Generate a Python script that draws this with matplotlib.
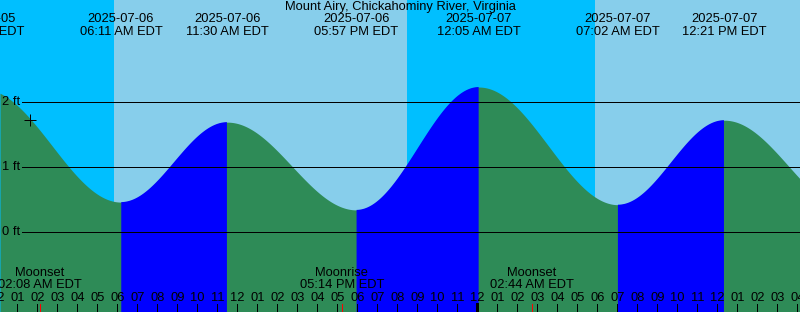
import numpy as np
import matplotlib
matplotlib.use("Agg")
import matplotlib.pyplot as plt

plt.rcParams["font.family"] = ["Liberation Sans", "DejaVu Sans"]

title = "Mount Airy, Chickahominy River, Virginia"

# tide extremes: hours since 2025-07-06 00:00 EDT, height in ft
tide_hours = [-0.72, 6.18, 11.50, 17.95, 24.08, 31.03, 36.35, 42.8]
tide_heights = [2.2, 0.46, 1.69, 0.34, 2.23, 0.42, 1.72, 0.30]
tide_dates = ["2025-07-05", "2025-07-06", "2025-07-06", "2025-07-06",
              "2025-07-07", "2025-07-07", "2025-07-07", ""]
tide_times = ["11:17 PM EDT", "06:11 AM EDT", "11:30 AM EDT", "05:57 PM EDT",
              "12:05 AM EDT", "07:02 AM EDT", "12:21 PM EDT", ""]

# daylight spans (sunrise, sunset) in hours
day_spans = [(5.83, 20.48), (29.88, 45.0)]

moon_hours = [2.13, 17.23, 26.73]
moon_names = ["Moonset", "Moonrise", "Moonset"]
moon_times = ["02:08 AM EDT", "05:14 PM EDT", "02:44 AM EDT"]

height_ticks = [0, 1, 2]
now_hour, now_height = 1.63, 1.72

W, H = 800, 312
x0 = 0.135
x1 = x0 + W / 20.0
ytop = 232 / 65.0
ybot = (232 - H) / 65.0
FS = 9.3
PX = 0.72  # one pixel in points

fig = plt.figure(figsize=(W / 100, H / 100), dpi=100)
ax = fig.add_axes([0, 0, 1, 1])
ax.set_xlim(x0, x1)
ax.set_ylim(ybot, ytop)
ax.axis("off")

def ypix(p):
    return 1 - p / H

tr = ax.get_xaxis_transform()

# sky
ax.axvspan(x0, x1, color="#00BFFF", lw=0, zorder=0)
for a, b in day_spans:
    ax.axvspan(a, b, color="#87CEEB", lw=0, zorder=0.5)

# tide curve, cosine shape between extremes
t = np.linspace(x0, x1, 2000)
h = np.zeros_like(t)
rising = np.zeros_like(t, dtype=bool)
for i in range(len(tide_hours) - 1):
    ta, tb = tide_hours[i], tide_hours[i + 1]
    ha, hb = tide_heights[i], tide_heights[i + 1]
    m = (t >= ta) & (t <= tb)
    f = (t[m] - ta) / (tb - ta)
    h[m] = (ha + hb) / 2 + (ha - hb) / 2 * np.cos(np.pi * f)
    if hb > ha:
        rising[m] = True

ax.fill_between(t, ybot, h, color="#2E8B57", lw=0, zorder=1)
ax.fill_between(t, ybot, h, where=rising, color="#0000FF", lw=0, zorder=2)

# height lines
for v in height_ticks:
    ax.plot([x0 + 22 / 20.0, x1], [v, v], color="black", lw=PX,
            antialiased=False, zorder=3)
    ax.text(x0 + 2 / 20.0, v, "%d ft" % v, ha="left", va="center",
            fontsize=FS, zorder=4)

ax.plot(now_hour, now_height, marker="+", color="black", ms=8, mew=PX,
        zorder=4)

ax.text(0.5, ypix(7), title, transform=ax.transAxes, ha="center",
        va="center", fontsize=FS, zorder=5)
for th, d, tm in zip(tide_hours, tide_dates, tide_times):
    if not d:
        continue
    ax.text(th, ypix(19), d, transform=tr, ha="center", va="center",
            fontsize=FS, zorder=5)
    ax.text(th, ypix(32), tm, transform=tr, ha="center", va="center",
            fontsize=FS, zorder=5)

# hour ticks
for hr in range(int(np.floor(x0)), int(np.ceil(x1)) + 1):
    lab = "%02d" % (hr % 12 if hr % 12 else 12)
    ax.text(hr, ypix(298), lab, transform=tr, ha="center", va="center",
            fontsize=FS, zorder=5)
    lw = 3 * PX if hr % 24 == 0 else PX
    ax.plot([hr, hr], [ypix(304), ypix(312)], transform=tr, color="black",
            lw=lw, antialiased=False, zorder=4)

for mh, mn, mt in zip(moon_hours, moon_names, moon_times):
    ax.text(mh, ypix(273), mn, transform=tr, ha="center", va="center",
            fontsize=FS, zorder=5)
    ax.text(mh, ypix(285), mt, transform=tr, ha="center", va="center",
            fontsize=FS, zorder=5)
    ax.plot([mh, mh], [ypix(304), ypix(312)], transform=tr, color="red",
            lw=PX, antialiased=False, zorder=6)

fig.savefig("out.png", dpi=100)
